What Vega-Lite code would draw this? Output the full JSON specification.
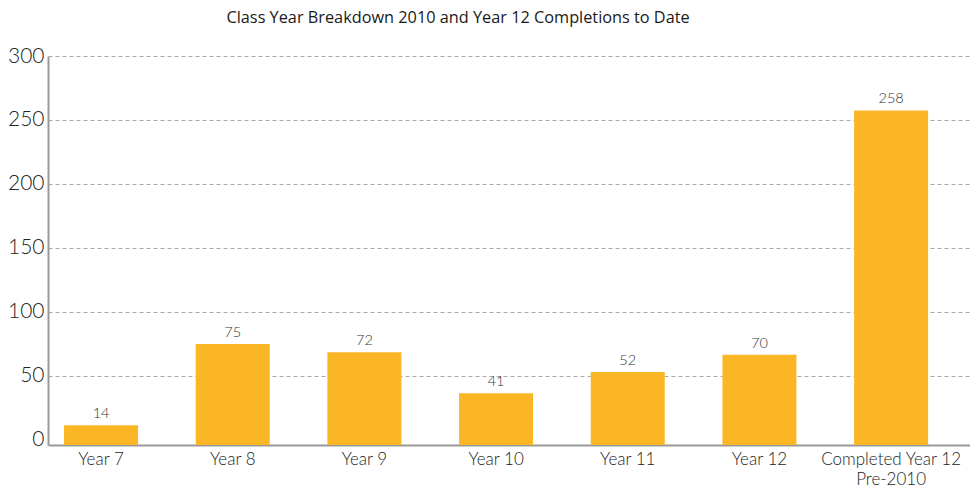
{
  "$schema": "https://vega.github.io/schema/vega-lite/v6.json",
  "autosize": "none",
  "width": 922,
  "height": 389,
  "padding": {"left": 48, "top": 56, "right": 0, "bottom": 47},
  "background": "white",
  "title": {
    "text": "Class Year Breakdown 2010 and Year 12 Completions to Date",
    "font": "Open Sans",
    "fontSize": 16.3,
    "fontWeight": 500,
    "color": "#1a1a1a",
    "anchor": "start",
    "dx": 219,
    "offset": 19
  },
  "data": {
    "values": [
      {"year": "Year 7", "bar": 11.5, "label": 14},
      {"year": "Year 8", "bar": 75, "label": 75},
      {"year": "Year 9", "bar": 68.5, "label": 72},
      {"year": "Year 10", "bar": 36.5, "label": 41},
      {"year": "Year 11", "bar": 53, "label": 52},
      {"year": "Year 12", "bar": 66.5, "label": 70},
      {"year": "Completed Year 12|Pre-2010", "bar": 257.5, "label": 258}
    ]
  },
  "config": {
    "view": {"stroke": null},
    "axis": {"labelFont": "Lato", "labelFontWeight": 300, "labelColor": "#222222"}
  },
  "encoding": {
    "x": {
      "field": "year",
      "type": "nominal",
      "sort": null,
      "scale": {"paddingInner": 0.438, "paddingOuter": 0.22, "align": 0.277},
      "axis": {
        "title": null,
        "labelAngle": 0,
        "labelFontSize": 17,
        "labelPadding": 6,
        "labelExpr": "split(datum.value, '|')",
        "ticks": false,
        "domainColor": "#999999",
        "domainWidth": 2,
        "labelLineHeight": 20
      }
    }
  },
  "layer": [
    {
      "mark": {"type": "bar", "color": "#FBB625"},
      "encoding": {
        "y": {
          "field": "bar",
          "type": "quantitative",
          "scale": {"domain": [-4, 300], "nice": false, "zero": false},
          "axis": {
            "title": null,
            "values": [0, 50, 100, 150, 200, 250, 300],
            "labelFontSize": 21,
            "labelPadding": 4,
            "ticks": false,
            "domainColor": "#999999",
            "domainWidth": 2,
            "gridColor": "#aaaaaa",
            "gridDash": [4, 3],
            "gridWidth": 1,
            "gridOpacity": {"condition": {"test": "datum.value === 0", "value": 0}, "value": 1}
          }
        },
        "y2": {"datum": -4}
      }
    },
    {
      "mark": {"type": "text", "baseline": "bottom", "dy": -4, "font": "Lato", "fontWeight": 300, "fontSize": 14.5, "color": "#333333"},
      "encoding": {
        "y": {"field": "bar", "type": "quantitative"},
        "text": {"field": "label", "type": "quantitative"}
      }
    }
  ]
}
